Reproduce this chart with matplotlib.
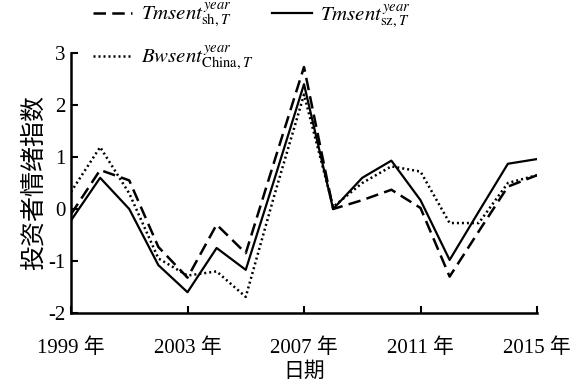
import matplotlib
matplotlib.use('Agg')
import matplotlib.pyplot as plt

plt.rcParams['font.family'] = ['Liberation Serif', 'Noto Sans CJK SC']
plt.rcParams['mathtext.fontset'] = 'stix'
plt.rcParams['axes.unicode_minus'] = False

years = list(range(1999, 2016))
tmsent_sh = [-0.1, 0.75, 0.55, -0.73, -1.32, -0.3, -0.85, 0.95, 2.73,
             0.0, 0.17, 0.37, 0.02, -1.3, -0.43, 0.43, 0.65]
tmsent_sz = [-0.22, 0.6, 0.0, -1.08, -1.6, -0.75, -1.17, 0.6, 2.4,
             0.0, 0.6, 0.93, 0.17, -0.98, -0.05, 0.87, 0.96]
bwsent_china = [0.33, 1.19, 0.3, -0.95, -1.28, -1.2, -1.69, 0.3, 2.2,
                0.04, 0.5, 0.82, 0.72, -0.27, -0.27, 0.5, 0.65]
xticks = [1999, 2003, 2007, 2011, 2015]
xticklabels = ['1999 年', '2003 年', '2007 年', '2011 年', '2015 年']

fig = plt.figure(figsize=(5.79, 3.84), dpi=100)
ax = fig.add_axes([71/579, 1 - 313/384, (537 - 71)/579, (313 - 53)/384])

l_sh, = ax.plot(years, tmsent_sh, color='black', lw=1.8, ls=(0, (5, 2.5)),
                label=r'$\mathit{Tmsent}_{\mathrm{sh},T}^{\mathit{year}}$')
l_china, = ax.plot(years, bwsent_china, color='black', lw=1.8, ls=(0, (0.8, 1.2)),
                   label=r'$\mathit{Bwsent}_{\mathrm{China},T}^{\mathit{year}}$')
l_sz, = ax.plot(years, tmsent_sz, color='black', lw=1.6, ls='-',
                label=r'$\mathit{Tmsent}_{\mathrm{sz},T}^{\mathit{year}}$')

ax.set_xlim(1999, 2015)
ax.set_ylim(-2, 3)
ax.set_xticks(xticks)
ax.set_xticklabels(xticklabels)
ax.set_yticks([-2, -1, 0, 1, 2, 3])
ax.tick_params(direction='in', labelsize=15, length=5, width=1.5, pad=4)
ax.tick_params(axis='x', pad=18)
for s in ['top', 'right']:
    ax.spines[s].set_visible(False)
for s in ['left', 'bottom']:
    ax.spines[s].set_linewidth(1.8)

ax.set_xlabel('日期', fontsize=15)
ax.xaxis.set_label_coords(0.5, -0.19)
ax.set_ylabel('投资者情绪指数', fontsize=18, labelpad=2)

fig.legend(handles=[l_sh, l_china, l_sz], ncol=2, frameon=False,
           loc='upper left', bbox_to_anchor=(0.128, 1.045), fontsize=15,
           handlelength=1.9, handletextpad=0.4, columnspacing=0.9,
           labelspacing=0.65)

fig.savefig('out.png', dpi=100)
